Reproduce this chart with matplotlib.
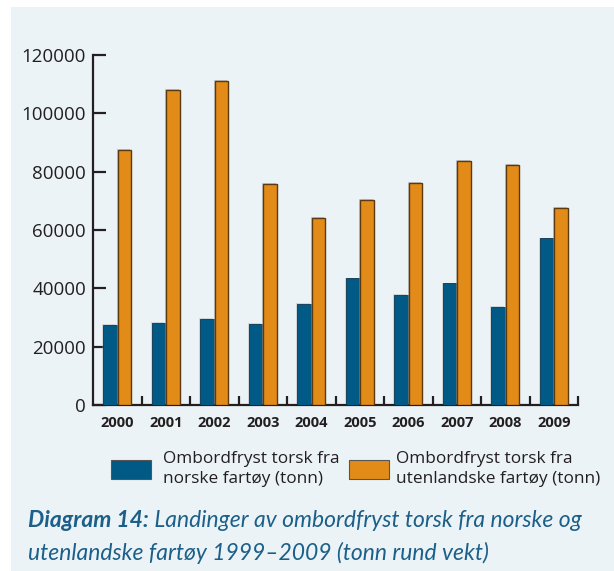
import matplotlib
matplotlib.use("Agg")
import matplotlib.pyplot as plt
import matplotlib.patheffects as pe
from matplotlib.patches import Rectangle, Patch
import numpy as np

years = ["2000", "2001", "2002", "2003", "2004", "2005", "2006", "2007", "2008", "2009"]
norske = [27400, 28000, 29500, 27900, 34700, 43400, 37600, 41700, 33600, 57100]
utenlandske = [87400, 108000, 111000, 75700, 64000, 70200, 76000, 83500, 82400, 67500]
yticks = [0, 20000, 40000, 60000, 80000, 100000, 120000]
legend_labels = ["Ombordfryst torsk fra\nnorske fartøy (tonn)",
                 "Ombordfryst torsk fra\nutenlandske fartøy (tonn)"]
caption_bold = "Diagram 14:"
caption_rest = " Landinger av ombordfryst torsk fra norske og"
caption_line2 = "utenlandske fartøy 1999–2009 (tonn rund vekt)"

BLUE = "#005a85"
ORANGE = "#e38b18"
TXT = "#231f20"
CAP = "#1c5f88"
BG = "#ebf3f7"

W, H = 614, 571
fig = plt.figure(figsize=(W / 100, H / 100), dpi=100, facecolor="white")
fig.patches.append(Rectangle((11 / W, 0), 1 - 11 / W, (H - 7) / H,
                             transform=fig.transFigure, facecolor=BG,
                             edgecolor="none", zorder=-10))

ax = fig.add_axes([93 / W, (H - 405) / H, (578 - 93) / W, (405 - 55) / H])
ax.set_facecolor("none")

x = np.arange(len(years))
bw = 0.28
off = 0.152
shadow_o = [pe.SimplePatchShadow(offset=(-0.8, 0.7), shadow_rgbFace="#a0a0a0", alpha=0.5), pe.Normal()]
shadow_b = [pe.SimplePatchShadow(offset=(-0.5, 0.6), shadow_rgbFace="#a0a0a0", alpha=0.35), pe.Normal()]
b1 = ax.bar(x - off, norske, bw, color=BLUE, edgecolor="#0b3650", linewidth=0.6, zorder=3)
b2 = ax.bar(x + off, utenlandske, bw, color=ORANGE, edgecolor="#5b3a0f", linewidth=1.0, zorder=3)
for r in b1:
    r.set_path_effects(shadow_b)
for r in b2:
    r.set_path_effects(shadow_o)

ax.set_xlim(-0.5, len(years) - 0.5)
ax.set_ylim(0, 120000)
ax.set_yticks(yticks)
ax.set_yticklabels([str(v) for v in yticks])
ax.set_xticks(x)
ax.set_xticklabels(years)
ax.set_xticks(np.arange(len(years)) + 0.5, minor=True)

for s in ["top", "right"]:
    ax.spines[s].set_visible(False)
for s in ["left", "bottom"]:
    ax.spines[s].set_color(TXT)
    ax.spines[s].set_linewidth(1.6)
    ax.spines[s].set_capstyle("projecting")

ax.tick_params(axis="y", direction="in", length=9.4, width=1.6, color=TXT,
               labelsize=13.5, labelcolor=TXT, pad=5)
ax.tick_params(axis="x", which="major", length=0, labelsize=10.5, labelcolor=TXT, pad=8)
ax.tick_params(axis="x", which="minor", direction="in", length=6.5, width=1.6, color=TXT)
for lab in ax.get_yticklabels():
    lab.set_fontfamily("Open Sans")
for lab in ax.get_xticklabels():
    lab.set_fontfamily("Open Sans")
    lab.set_fontweight("bold")

lfs = 12.4
lpx = lfs * 100 / 72
handles = [Patch(facecolor=BLUE, edgecolor="#555555", linewidth=0.8),
           Patch(facecolor=ORANGE, edgecolor="#555555", linewidth=0.8)]
anchors = [111, 349]
pads = [12, 6.5]
for h, lab, ax0, pd in zip(handles, legend_labels, anchors, pads):
    leg = fig.legend([h], [lab], loc="upper left",
                     bbox_to_anchor=(ax0 / W, (H - 451) / H), frameon=False,
                     prop={"family": "Open Sans", "size": lfs},
                     handlelength=40 / lpx, handleheight=23 / lpx, handletextpad=pd / lpx,
                     borderpad=0, borderaxespad=0, labelspacing=0)
    for t in leg.get_texts():
        t.set_color(TXT)
        t.set_linespacing(1.35)

fs = 16.5
t1 = fig.text(28 / W, (H - 527) / H, caption_bold, fontfamily="Lato", fontsize=fs,
              fontweight="bold", fontstyle="italic", color=CAP, va="baseline")
fig.text(28 / W, (H - 560) / H, caption_line2, fontfamily="Lato", fontsize=fs,
         fontstyle="italic", color=CAP, va="baseline")
ax.annotate(caption_rest, xy=(1, 0), xycoords=t1, va="bottom", ha="left",
            fontfamily="Lato", fontsize=fs, fontstyle="italic", color=CAP,
            annotation_clip=False)

fig.savefig("out.png", dpi=100, facecolor="white")
